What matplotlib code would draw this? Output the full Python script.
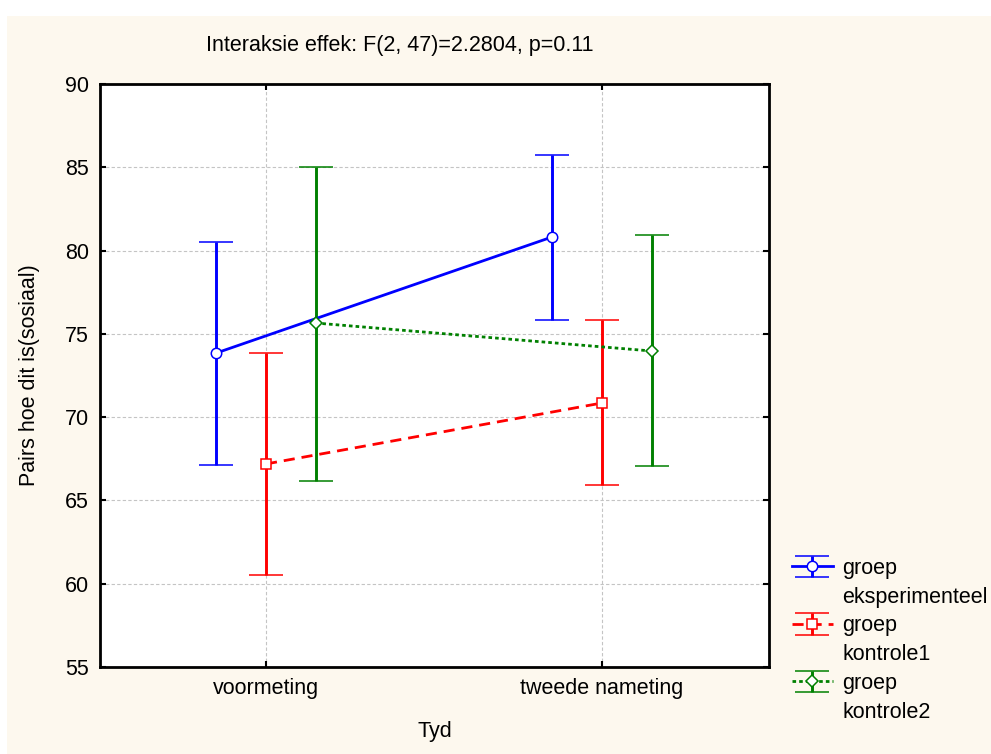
import matplotlib.pyplot as plt
from matplotlib.lines import Line2D
from matplotlib.patches import Rectangle
import numpy as np

# Data
tye = ['voormeting', 'tweede nameting']
groep_name = ['eksperimenteel', 'kontrole1', 'kontrole2']

gem_eksp = [73.85, 80.82]
hoog_eksp = [80.52, 85.74]
laag_eksp = [67.13, 75.83]

gem_kon1 = [67.19, 70.85]
hoog_kon1 = [73.85, 75.83]
laag_kon1 = [60.53, 65.93]

gem_kon2 = [75.65, 73.97]
hoog_kon2 = [85.02, 80.94]
laag_kon2 = [66.17, 67.07]

yticks = [55, 60, 65, 70, 75, 80, 85, 90]

#Plot
plt.rcParams['font.family'] = ['Liberation Sans', 'DejaVu Sans']
fs = 15.5
cream = '#FDF8EE'

fig = plt.figure(figsize=(9.91, 7.54), dpi=100, facecolor='white')
fig.add_artist(Rectangle((7/991, 0), 1, 1 - 16/754, transform=fig.transFigure,
                         facecolor=cream, edgecolor='none', zorder=-10))
ax = fig.add_axes([100/991, 1 - 667/754, 669/991, 583/754])

x = np.arange(len(tye))
styles = [
    (gem_eksp, hoog_eksp, laag_eksp, -0.148, 'blue', 'o', 7.5, None, '-'),
    (gem_kon1, hoog_kon1, laag_kon1, 0.0, 'red', 's', 7, (4, 2.5), '--'),
    (gem_kon2, hoog_kon2, laag_kon2, 0.148, 'green', 'D', 6, (1.3, 1.1), ':'),
]

handles = []
for gem, hoog, laag, off, col, mk, ms, dash, ls in styles:
    gem = np.array(gem)
    yerr = [gem - np.array(laag), np.array(hoog) - gem]
    eb = ax.errorbar(x + off, gem, yerr=yerr, color=col, ecolor=col, lw=2,
                     elinewidth=2.1, capsize=12.5, capthick=2.1, marker=mk,
                     markersize=ms, markerfacecolor='white', markeredgecolor=col,
                     markeredgewidth=1.1, linestyle=ls)
    if dash is not None:
        eb.lines[0].set_dashes(dash)
    handles.append(eb)

ax.set_xlim(-0.494, 1.497)
ax.set_ylim(55, 90)
ax.set_xticks(x)
ax.set_xticklabels(tye)
ax.set_yticks(yticks)
ax.tick_params(direction='in', length=4, width=1.5, labelsize=fs, pad=8,
               top=True, right=True)
ax.grid(True, color='#C4C4C4', ls='--', lw=0.8, dashes=(3, 2))
ax.set_axisbelow(True)
for s in ax.spines.values():
    s.set_linewidth(2)
    s.set_color('black')

ax.set_ylabel('Pairs hoe dit is(sosiaal)', fontsize=fs)
ax.yaxis.set_label_coords(-0.0897, 0.5)
ax.set_xlabel('Tyd', fontsize=fs)
ax.xaxis.set_label_coords(0.5, -0.092)

fig.text(400/991, 1 - 46/754, 'Interaksie effek: F(2, 47)=2.2804, p=0.11',
         ha='center', va='center', fontsize=fs)

# legend: one row for "groep" with the handle, one row for the group name
blank = Line2D([], [], linestyle='none')
leg_h, leg_l = [], []
for h, naam in zip(handles, groep_name):
    leg_h += [h, blank]
    leg_l += ['groep', naam]
fig.legend(leg_h, leg_l, loc='upper left', bbox_to_anchor=(792/991, 1 - 558/754),
           frameon=False, borderpad=0, borderaxespad=0, handlelength=1.9,
           handletextpad=0.45, labelspacing=0.36, fontsize=fs)

plt.savefig('out.png', dpi=100)
